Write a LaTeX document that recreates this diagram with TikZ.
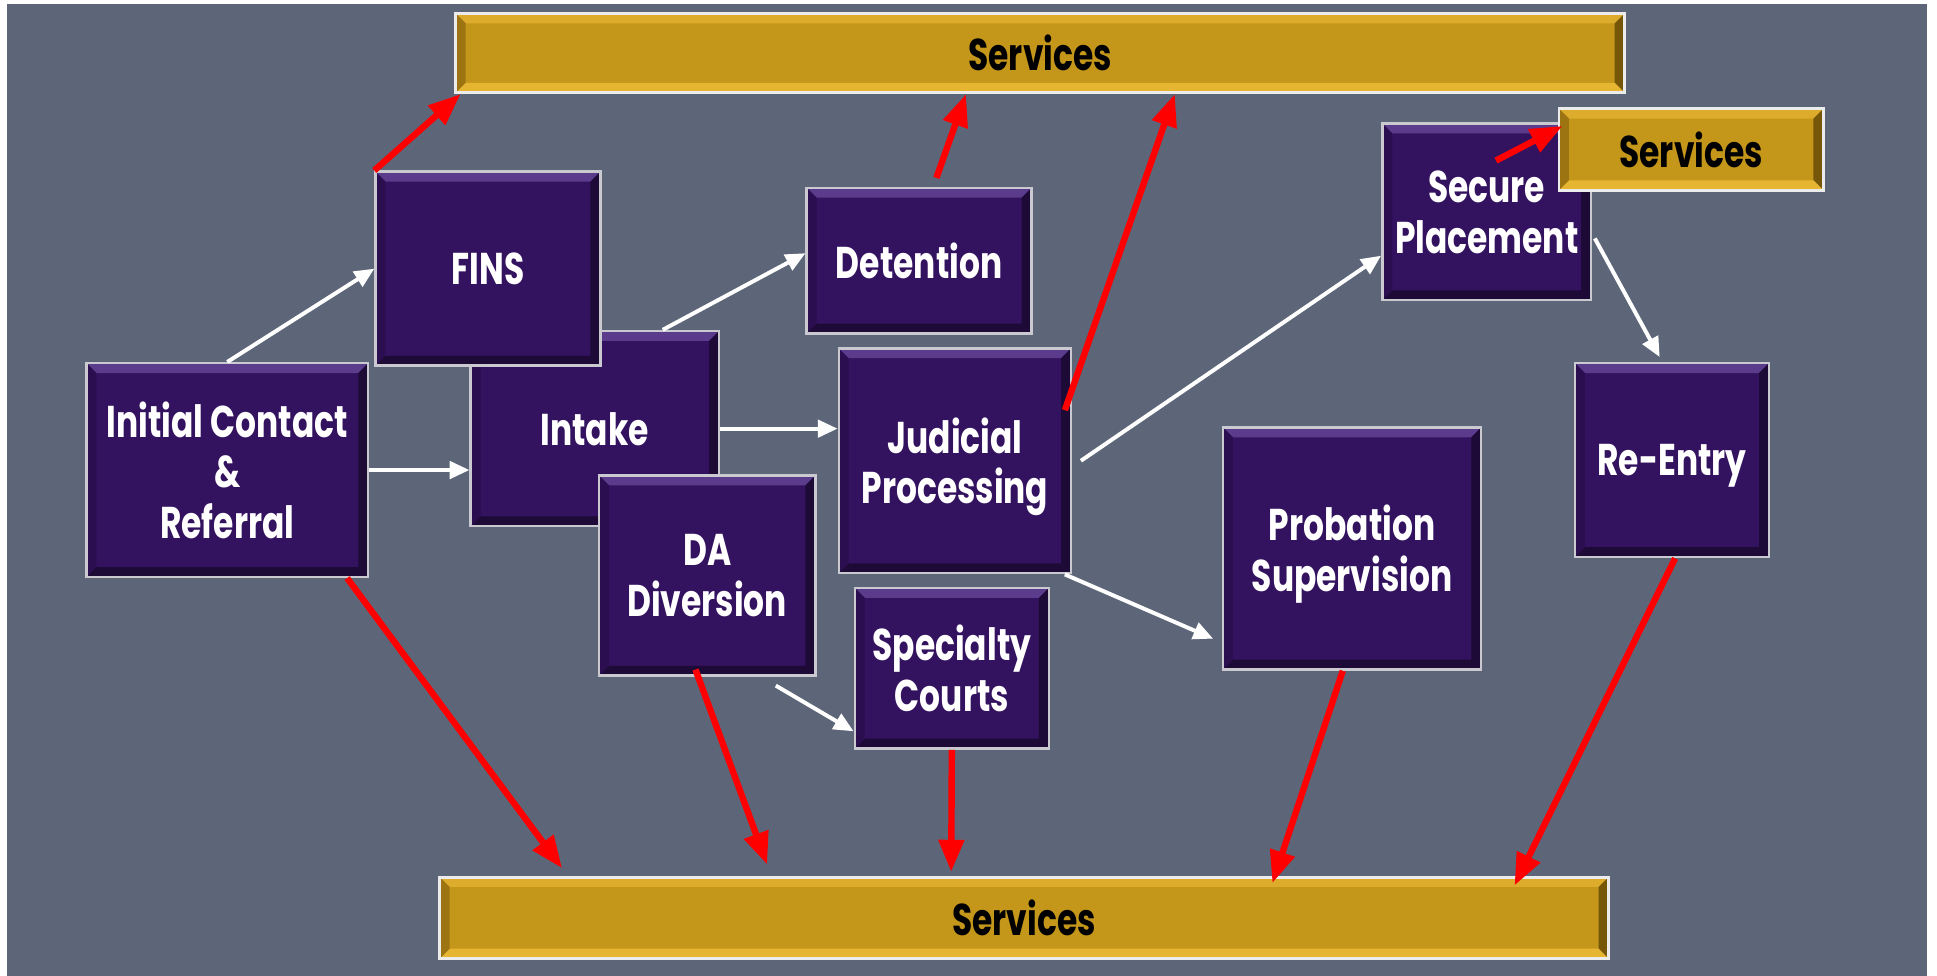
\documentclass[tikz,border=0pt]{standalone}
\usepackage{fontspec}
\setmainfont{Poppins}[FakeStretch=0.74]
\usepackage{tikz}
\usetikzlibrary{positioning, arrows, arrows.meta, calc}
\usepackage{xcolor}
\definecolor{slate}{HTML}{5D6678}
\definecolor{stagefill}{HTML}{33125F}
\definecolor{stagetop}{HTML}{5B3B8C}
\definecolor{stageside}{HTML}{2A0E50}
\definecolor{stagebot}{HTML}{1D0A36}
\definecolor{rim}{HTML}{C9C9CF}
\definecolor{gold}{HTML}{C4961A}
\definecolor{goldtop}{HTML}{DDAC2C}
\definecolor{goldside}{HTML}{9C7512}
\definecolor{golddark}{HTML}{765609}
\definecolor{goldlight}{HTML}{E6B632}
\newcommand{\bevelw}{4pt}
\tikzset{
  bevel/.style n args={4}{path picture={
      \coordinate (nw) at (path picture bounding box.north west);
      \coordinate (ne) at (path picture bounding box.north east);
      \coordinate (se) at (path picture bounding box.south east);
      \coordinate (sw) at (path picture bounding box.south west);
      \fill[#1] (nw) -- (ne) -- ([shift={(-\bevelw,-\bevelw)}]ne) -- ([shift={(\bevelw,-\bevelw)}]nw) -- cycle;
      \fill[#2] (ne) -- (se) -- ([shift={(-\bevelw,\bevelw)}]se) -- ([shift={(-\bevelw,-\bevelw)}]ne) -- cycle;
      \fill[#3] (se) -- (sw) -- ([shift={(\bevelw,\bevelw)}]sw) -- ([shift={(-\bevelw,\bevelw)}]se) -- cycle;
      \fill[#4] (sw) -- (nw) -- ([shift={(\bevelw,-\bevelw)}]nw) -- ([shift={(\bevelw,\bevelw)}]sw) -- cycle;
    }},
  stage/.style={draw=rim, line width=1pt, fill=stagefill, text=white, align=center, inner sep=0pt,
    text depth=0pt, font=\bfseries\fontsize{18}{20.5}\selectfont,
    bevel={stagetop}{stagebot}{stagebot}{stageside}},
  svcbar/.style={draw=white!85!gray, line width=1.2pt, fill=gold, text=black, inner sep=0pt,
    text depth=0pt, font=\bfseries\fontsize{18}{20.5}\selectfont,
    bevel={goldtop}{golddark}{goldlight}{goldside}},
  wflow/.style={draw=white, line width=1.6pt, -{Triangle[length=8pt,width=7pt]}},
  rflow/.style={draw=red, line width=2.6pt, -{Triangle[length=13pt,width=10pt]}}
}
\begin{document}
\begin{tikzpicture}[x=0.5pt, y=-0.5pt]
\useasboundingbox (0,0) rectangle (1568,790);
\fill[slate] (6,3) rectangle (1560,790);

\node[svcbar, minimum width=473pt, minimum height=32pt] (svctop) at (842,43) {Services};
\node[svcbar, minimum width=473pt, minimum height=33pt] (svcbot) at (829,743) {Services};

\node[stage, minimum width=114pt, minimum height=86.5pt] (init) at (184,380.5) {Initial Contact\\\&\\Referral};
\node[stage, minimum width=100.5pt, minimum height=79pt] (intake) at (481.5,347) {Intake};
\node[stage, minimum width=91pt, minimum height=78.5pt] (fins) at (395,217.5) {FINS};
\node[stage, minimum width=87.5pt, minimum height=81pt] (da) at (572.5,466) {DA\\Diversion};
\node[stage, minimum width=91pt, minimum height=59pt] (det) at (744,211) {Detention};
\node[stage, minimum width=94pt, minimum height=91pt] (jud) at (773,373) {Judicial\\Processing};
\node[stage, minimum width=78.5pt, minimum height=65pt] (spec) at (770.5,541) {Specialty\\Courts};
\node[stage, minimum width=104.5pt, minimum height=98pt] (prob) at (1094.5,444) {Probation\\Supervision};
\node[stage, minimum width=84.5pt, minimum height=71.5pt] (sec) at (1203.5,171.5) {Secure\\Placement};
\node[stage, minimum width=78.5pt, minimum height=78.5pt] (reent) at (1353.5,372.5) {Re-Entry};

\node[svcbar, minimum width=107pt, minimum height=33pt] (svcside) at (1369,121) {Services};

\draw[wflow] (init.north) -- (fins.west);
\draw[wflow] (init.east) -- (init.east -| intake.west);
\draw[wflow] ([xshift=27.5pt]intake.north) -- ([yshift=3pt]det.west);
\draw[wflow] (intake.east) -- (intake.east -| jud.west);
\draw[wflow] ([xshift=3.5pt]jud.east) -- ([yshift=-17.75pt]sec.west);
\draw[wflow] ([xshift=-3pt]jud.south east) -- ([shift={(-3.5pt,-36.5pt)}]prob.west);
\draw[wflow] ([shift={(27.75pt,-3.5pt)}]da.south) -- ([yshift=-25.5pt]spec.west);
\draw[wflow] ([shift={(1pt,-10.75pt)}]sec.east) -- ([shift={(-5pt,2pt)}]reent.north);

\draw[rflow] (fins.north west) -- ([xshift=2.5pt]svctop.south west);
\draw[rflow] ([shift={(7pt,3.5pt)}]det.north) -- ([xshift=-30pt]svctop.south);
\draw[rflow] ([shift={(-3pt,20.5pt)}]jud.east) -- ([xshift=54.5pt]svctop.south);
\draw[rflow] ([shift={(3.75pt,20.75pt)}]sec.center) -- ([shift={(2pt,9.5pt)}]svcside.west);
\draw[rflow] ([xshift=-9pt]init.south east) -- ([shift={(-187pt,3pt)}]svcbot.north);
\draw[rflow] ([shift={(-4.75pt,3pt)}]da.south) -- ([shift={(-104pt,4.5pt)}]svcbot.north);
\draw[rflow] (spec.south) -- ([shift={(-29.5pt,1.5pt)}]svcbot.north);
\draw[rflow] ([xshift=-3.75pt]prob.south) -- ([shift={(100.5pt,-3pt)}]svcbot.north);
\draw[rflow] ([xshift=1.25pt]reent.south) -- ([shift={(198.5pt,-4pt)}]svcbot.north);
\end{tikzpicture}
\end{document}
